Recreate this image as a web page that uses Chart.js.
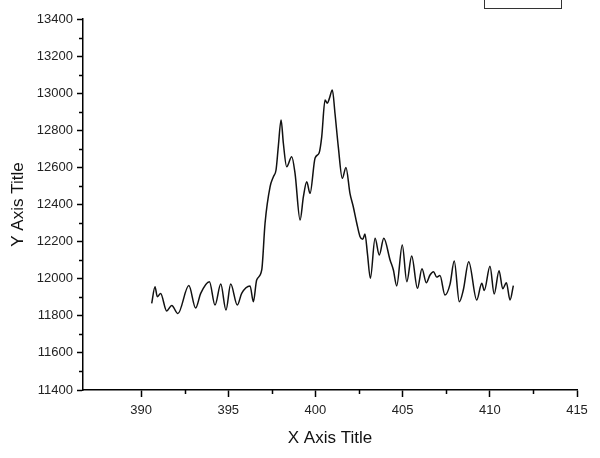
<!DOCTYPE html>
<html>
<head>
<meta charset="utf-8">
<script src="https://cdn.jsdelivr.net/npm/chart.js@4"></script>
<style>
  html, body { margin: 0; padding: 0; background: #fff; }
  #wrap { position: relative; width: 600px; height: 458px; overflow: hidden; }
  #legendBox { position: absolute; left: 484px; top: -10px; width: 76px; height: 17px; border: 1px solid #333; background: #fff; }
</style>
</head>
<body>
<div id="wrap">
  <canvas id="c" width="600" height="458"></canvas>
  <div id="legendBox"></div>
</div>
<script>
// ---- data ----
const xValues = [390.61, 390.80, 390.93, 391.12, 391.47, 391.76, 392.11, 392.74, 393.13, 393.42,
  393.92, 394.24, 394.57, 394.87, 395.14, 395.52, 395.77, 396.25, 396.44, 396.63,
  396.92, 397.11, 397.40, 397.59, 397.74, 397.87, 398.03, 398.16, 398.35, 398.64,
  398.83, 399.12, 399.31, 399.50, 399.69, 399.98, 400.21, 400.36, 400.55, 400.68,
  400.80, 400.97, 401.12, 401.31, 401.54, 401.75, 401.98, 402.17, 402.37, 402.56,
  402.71, 402.84, 402.98, 403.15, 403.42, 403.66, 403.92, 404.28, 404.47, 404.66,
  404.98, 405.24, 405.52, 405.85, 406.11, 406.36, 406.57, 406.77, 406.95, 407.14,
  407.43, 407.72, 407.96, 408.25, 408.48, 408.79, 409.25, 409.54, 409.68, 410.01,
  410.25, 410.53, 410.74, 410.95, 411.16, 411.35];
const yValues = [11867, 11957, 11903, 11920, 11826, 11856, 11812, 11963, 11842, 11921,
  11984, 11858, 11971, 11831, 11971, 11858, 11921, 11961, 11876, 11993,
  12047, 12299, 12496, 12550, 12586, 12712, 12856, 12730, 12604, 12658,
  12568, 12316, 12442, 12523, 12460, 12651, 12678, 12765, 12963, 12946,
  12972, 13017, 12892, 12712, 12541, 12600, 12460, 12388, 12299, 12226,
  12212, 12241, 12137, 12002, 12218, 12128, 12218, 12101, 12047, 11961,
  12182, 11984, 12122, 11948, 12053, 11978, 12020, 12038, 12009, 12017,
  11912, 11971, 12095, 11876, 11939, 12092, 11885, 11975, 11936, 12067,
  11918, 12043, 11946, 11978, 11885, 11963];
const xMajorTicks = [390, 395, 400, 405, 410, 415];
const xMinorTicks = [392.5, 397.5, 402.5, 407.5, 412.5];
const yMajorTicks = [11400, 11600, 11800, 12000, 12200, 12400, 12600, 12800, 13000, 13200, 13400];
const yMinorTicks = [11500, 11700, 11900, 12100, 12300, 12500, 12700, 12900, 13100, 13300];
const xTitle = 'X Axis Title';
const yTitle = 'Y Axis Title';

const points = xValues.map((x, i) => ({ x: x, y: yValues[i] }));

const minorTickPlugin = {
  id: 'minorTicks',
  afterDraw(chart) {
    const ctx = chart.ctx;
    const xs = chart.scales.x, ys = chart.scales.y;
    ctx.save();
    ctx.strokeStyle = '#000';
    ctx.lineWidth = 1.5;
    ctx.beginPath();
    xMinorTicks.forEach(v => {
      const px = Math.round(xs.getPixelForValue(v)) + 0.5;
      ctx.moveTo(px, ys.bottom);
      ctx.lineTo(px, ys.bottom + 4);
    });
    yMinorTicks.forEach(v => {
      const py = Math.round(ys.getPixelForValue(v)) + 0.5;
      ctx.moveTo(xs.left, py);
      ctx.lineTo(xs.left - 4, py);
    });
    ctx.stroke();
    ctx.restore();
  }
};

new Chart(document.getElementById('c'), {
  type: 'line',
  data: {
    datasets: [{
      data: points,
      borderColor: '#111111',
      borderWidth: 1.5,
      pointRadius: 0,
      cubicInterpolationMode: 'monotone',
      fill: false
    }]
  },
  options: {
    responsive: false,
    animation: false,
    events: [],
    layout: { padding: { top: 19, right: 23, left: 0, bottom: 0 } },
    plugins: { legend: { display: false }, tooltip: { enabled: false } },
    scales: {
      x: {
        type: 'linear',
        min: 386.67,
        max: 415,
        afterBuildTicks: s => { s.ticks = xMajorTicks.map(v => ({ value: v })); },
        afterFit: s => { s.height = 68; },
        border: { display: true, color: '#000', width: 1.5 },
        grid: { drawOnChartArea: false, drawTicks: true, tickLength: 7, tickColor: '#000', tickWidth: 1.5 },
        ticks: { color: '#222', font: { family: 'Liberation Sans', size: 13 }, padding: 6, maxRotation: 0, autoSkip: false,
                 callback: v => String(v) },
        title: { display: true, text: xTitle, color: '#111', font: { family: 'Liberation Sans', size: 17 }, padding: { top: 0, bottom: 9 } }
      },
      y: {
        type: 'linear',
        min: 11400,
        max: 13400,
        afterBuildTicks: s => { s.ticks = yMajorTicks.map(v => ({ value: v })); },
        afterFit: s => { s.width = 83; },
        border: { display: true, color: '#000', width: 1.5 },
        grid: { drawOnChartArea: false, drawTicks: true, tickLength: 6, tickColor: '#000', tickWidth: 1.5 },
        ticks: { color: '#222', font: { family: 'Liberation Sans', size: 13 }, padding: 4, autoSkip: false,
                 callback: v => String(v) },
        title: { display: true, text: yTitle, color: '#111', font: { family: 'Liberation Sans', size: 17 }, padding: { top: 8, bottom: 0 } }
      }
    }
  },
  plugins: [minorTickPlugin]
});
</script>
</body>
</html>
